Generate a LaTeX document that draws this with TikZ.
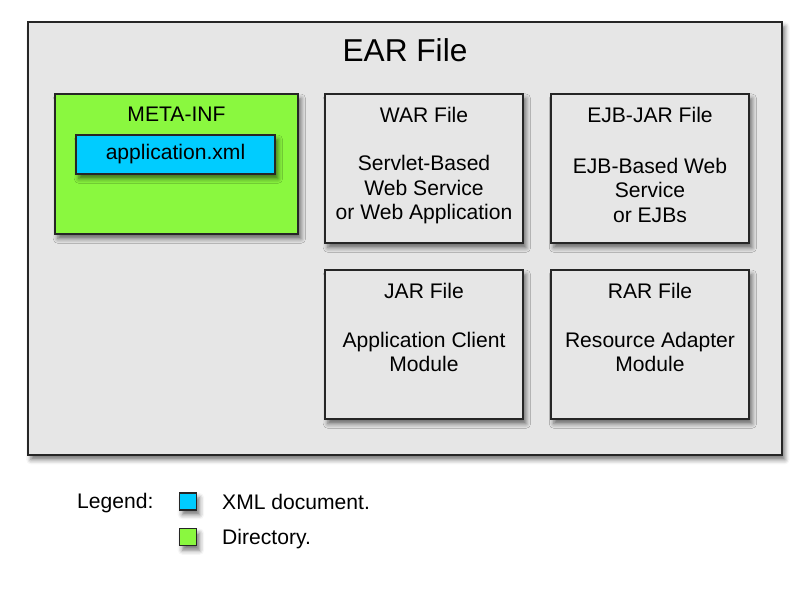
\documentclass[tikz,border=0pt]{standalone}
\usepackage{fontspec}
\setmainfont{Liberation Sans}
\usepackage{tikz}
\usetikzlibrary{shadows.blur}

\definecolor{eargray}{HTML}{E6E6E6}
\definecolor{dirgreen}{HTML}{8AF83F}
\definecolor{xmlcyan}{HTML}{00CCFF}
\definecolor{edgegray}{HTML}{262626}

\tikzset{
  boxshadow/.style={blur shadow={shadow xshift=2.5pt,shadow yshift=-4pt,shadow blur radius=4pt,shadow opacity=55}},
  earbox/.style={draw=edgegray,line width=1.2pt,fill=eargray,inner sep=0pt,
    minimum width=22.62cm,minimum height=12.99cm,boxshadow},
  filebox/.style={draw=edgegray,line width=1pt,fill=eargray,inner sep=0pt,
    minimum width=5.94cm,minimum height=4.47cm,boxshadow},
  dirbox/.style={draw=edgegray,line width=1pt,fill=dirgreen,inner sep=0pt,
    minimum width=7.29cm,minimum height=4.2cm,boxshadow},
  xmlbox/.style={draw=edgegray,line width=1pt,fill=xmlcyan,inner sep=0pt,
    minimum width=5.97cm,minimum height=1.17cm,boxshadow},
  keybox/.style={draw=edgegray,line width=0.9pt,inner sep=0pt,minimum size=0.51cm,boxshadow},
  txt/.style={font=\fontsize{18}{20.9}\selectfont,align=center,inner sep=0pt},
  bigtxt/.style={font=\fontsize{27}{30}\selectfont,inner sep=0pt}
}

\begin{document}
\begin{tikzpicture}[x=0.03cm,y=-0.03cm]
  \useasboundingbox (0,0) rectangle (809,590);

  % outer archive
  \node[earbox] (ear) at (405,238.5) {};
  \node[bigtxt] (eartitle) at (405,50) {EAR File};

  % META-INF directory
  \node[dirbox] (meta) at (176.5,164) {};
  \node[txt] (metatitle) at (176.5,114) {META-INF};
  \node[xmlbox] (appxml) at (175.5,154.5) {};
  \node[txt] (appxmltext) at (appxml.center) {application.xml};

  % modules
  \node[filebox] (war) at (424,168.5) {};
  \node[filebox] (ejb) at (650,168.5) {};
  \node[filebox] (jar) at (424,344.5) {};
  \node[filebox] (rar) at (650,344.5) {};

  \node[txt] (wartitle) at (424,114.5) {WAR File};
  \node[txt] (ejbtitle) at (650,114.5) {EJB-JAR File};
  \node[txt] (jartitle) at (424,290.5) {JAR File};
  \node[txt] (rartitle) at (650,290.5) {RAR File};

  \node[txt] (wartext) at (424,190) {Servlet-Based\\Web Service\\or Web Application};
  \node[txt] (ejbtext) at (650,190) {EJB-Based Web\\Service\\or EJBs};
  \node[txt] (jartext) at (424,352) {Application Client\\Module};
  \node[txt] (rartext) at (650,352) {Resource Adapter\\Module};

  % legend
  \node[txt,anchor=base west] (legend) at (77,508) {Legend:};
  \node[keybox,fill=xmlcyan] (keyxml) at (188,501.5) {};
  \node[keybox,fill=dirgreen] (keydir) at (188,537) {};
  \node[txt,anchor=base west] (keyxmltext) at (222,509) {XML document.};
  \node[txt,anchor=base west] (keydirtext) at (222,544) {Directory.};
\end{tikzpicture}
\end{document}
